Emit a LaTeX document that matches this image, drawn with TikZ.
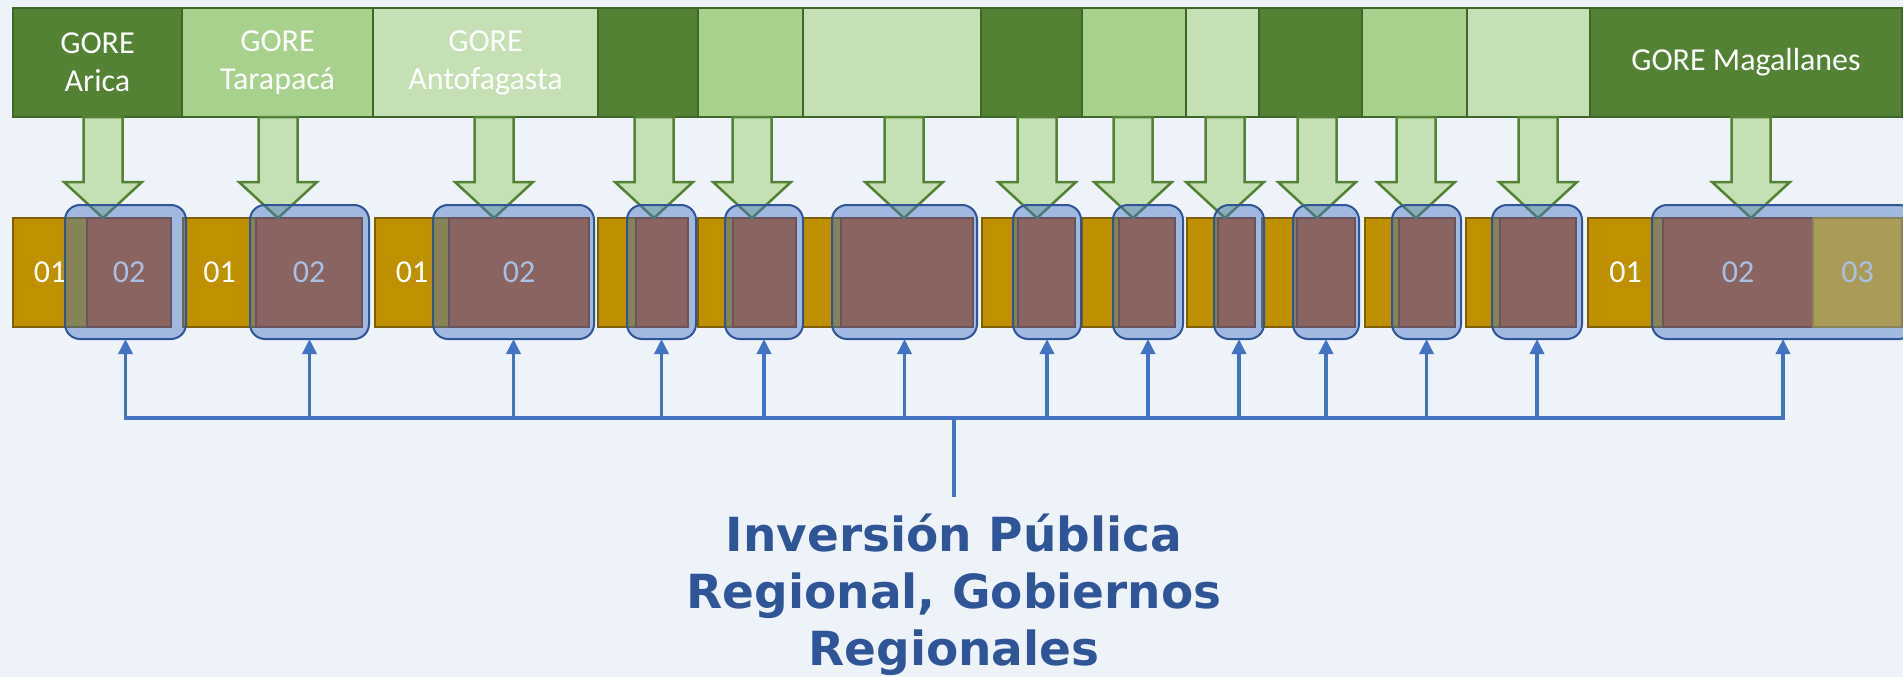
\documentclass[tikz,border=0pt]{standalone}
\usepackage{fontspec}
\setmainfont{Carlito}
\newfontfamily\titlefont{DejaVu Sans}
\usetikzlibrary{arrows.meta}
\definecolor{bgc}{HTML}{EEF3FA}
\definecolor{gdark}{HTML}{548235}
\definecolor{gmed}{HTML}{A9D18E}
\definecolor{glight}{HTML}{C5E0B4}
\definecolor{gborder}{HTML}{3F6628}
\definecolor{goldd}{HTML}{BF9000}
\definecolor{goldb}{HTML}{7F6000}
\definecolor{orng}{HTML}{C55A11}
\definecolor{orngb}{HTML}{843C0C}
\definecolor{yel}{HTML}{FFC000}
\definecolor{accblue}{HTML}{4472C4}
\definecolor{darkblue}{HTML}{2F5597}
\tikzset{
  topbox/.style={draw=gborder, line width=2pt, inner sep=0pt, outer sep=0pt, anchor=north west,
    minimum height=109pt, text=white, align=center, font=\fontsize{32}{38}\selectfont},
  goldbar/.style={draw=goldb, fill=goldd, line width=2pt, inner sep=0pt, outer sep=0pt, anchor=north west,
    minimum height=109pt, text=white, font=\fontsize{32}{38}\selectfont},
  orangebar/.style={goldbar, draw=orngb, fill=orng},
  yellowbar/.style={goldbar, draw=goldd, fill=yel},
  hilite/.style={draw=darkblue, line width=2pt, fill=accblue, fill opacity=0.45, rounded corners=15pt,
    inner sep=0pt, outer sep=0pt, anchor=north west, minimum height=134pt},
  blockarrow/.style={draw=gdark, fill=glight, line width=2.5pt, line join=miter},
  bus/.style={draw=accblue, line width=3.5pt},
  busarrow/.style={bus, -{Triangle[length=15pt,width=14pt]}},
  titletext/.style={text=darkblue, align=center, font=\titlefont\bfseries\fontsize{47}{57}\selectfont, inner sep=0pt}
}
\begin{document}
\begin{tikzpicture}[x=1pt,y=-1pt]
\fill[bgc] (0,0) rectangle (1903,677);
\useasboundingbox (0,0) rectangle (1903,677);

% top boxes
\node[topbox, fill=gdark,  minimum width=169pt] (t1)  at (13,8)   {GORE\\Arica};
\node[topbox, fill=gmed,   minimum width=191pt] (t2)  at (182,8)  {GORE\\Tarapacá};
\node[topbox, fill=glight, minimum width=225pt] (t3)  at (373,8)  {GORE\\Antofagasta};
\node[topbox, fill=gdark,  minimum width=100pt] (t4)  at (598,8)  {};
\node[topbox, fill=gmed,   minimum width=105pt] (t5)  at (698,8)  {};
\node[topbox, fill=glight, minimum width=178pt] (t6)  at (803,8)  {};
\node[topbox, fill=gdark,  minimum width=101pt] (t7)  at (981,8)  {};
\node[topbox, fill=gmed,   minimum width=104pt] (t8)  at (1082,8) {};
\node[topbox, fill=glight, minimum width=73pt]  (t9)  at (1186,8) {};
\node[topbox, fill=gdark,  minimum width=103pt] (t10) at (1259,8) {};
\node[topbox, fill=gmed,   minimum width=105pt] (t11) at (1362,8) {};
\node[topbox, fill=glight, minimum width=123pt] (t12) at (1467,8) {};
\node[topbox, fill=gdark,  minimum width=312pt] (t13) at (1590,8) {GORE Magallanes};

% bars
\node[goldbar,   minimum width=74pt]  (a1)  at (13,218)   {01};
\node[orangebar, minimum width=84pt]  (b1)  at (87,218)   {02};
\node[goldbar,   minimum width=73pt]  (a2)  at (183,218)  {01};
\node[orangebar, minimum width=106pt] (b2)  at (256,218)  {02};
\node[goldbar,   minimum width=74pt]  (a3)  at (375,218)  {01};
\node[orangebar, minimum width=140pt] (b3)  at (449,218)  {02};
\node[goldbar,   minimum width=38pt]  (a4)  at (598,218)  {};
\node[orangebar, minimum width=52pt]  (b4)  at (636,218)  {};
\node[goldbar,   minimum width=35pt]  (a5)  at (698,218)  {};
\node[orangebar, minimum width=63pt]  (b5)  at (733,218)  {};
\node[goldbar,   minimum width=38pt]  (a6)  at (803,218)  {};
\node[orangebar, minimum width=132pt] (b6)  at (841,218)  {};
\node[goldbar,   minimum width=36pt]  (a7)  at (982,218)  {};
\node[orangebar, minimum width=57pt]  (b7)  at (1018,218) {};
\node[goldbar,   minimum width=37pt]  (a8)  at (1082,218) {};
\node[orangebar, minimum width=56pt]  (b8)  at (1119,218) {};
\node[goldbar,   minimum width=31pt]  (a9)  at (1187,218) {};
\node[orangebar, minimum width=37pt]  (b9)  at (1218,218) {};
\node[goldbar,   minimum width=35pt]  (a10) at (1262,218) {};
\node[orangebar, minimum width=58pt]  (b10) at (1297,218) {};
\node[goldbar,   minimum width=34pt]  (a11) at (1365,218) {};
\node[orangebar, minimum width=56pt]  (b11) at (1399,218) {};
\node[goldbar,   minimum width=34pt]  (a12) at (1466,218) {};
\node[orangebar, minimum width=76pt]  (b12) at (1500,218) {};
\node[goldbar,   minimum width=75pt]  (a13) at (1588,218) {01};
\node[orangebar, minimum width=150pt] (b13) at (1663,218) {02};
\node[yellowbar, minimum width=89pt]  (c13) at (1813,218) {03};

% green block arrows
\foreach \c in {103,278,494,654,752,904,1037,1133,1225,1317,1416,1538,1751}{
  \draw[blockarrow] (\c-19.5,117) -- (\c-19.5,182) -- (\c-39,182) -- (\c,218)
     -- (\c+39,182) -- (\c+19.5,182) -- (\c+19.5,117) -- cycle;
}

% highlight frames
\node[hilite, minimum width=121pt] (r1)  at (65,205)   {};
\node[hilite, minimum width=119pt] (r2)  at (250,205)  {};
\node[hilite, minimum width=161pt] (r3)  at (433,205)  {};
\node[hilite, minimum width=69pt]  (r4)  at (627,205)  {};
\node[hilite, minimum width=78pt]  (r5)  at (725,205)  {};
\node[hilite, minimum width=145pt] (r6)  at (832,205)  {};
\node[hilite, minimum width=68pt]  (r7)  at (1013,205) {};
\node[hilite, minimum width=70pt]  (r8)  at (1113,205) {};
\node[hilite, minimum width=50pt]  (r9)  at (1214,205) {};
\node[hilite, minimum width=66pt]  (r10) at (1293,205) {};
\node[hilite, minimum width=69pt]  (r11) at (1392,205) {};
\node[hilite, minimum width=90pt]  (r12) at (1492,205) {};
\node[hilite, minimum width=262pt] (r13) at (1652,205) {};

% blue connectors
\coordinate (hub) at (954,418);
\coordinate (stemend) at (954,497);
\draw[bus] (stemend) -- (hub);
\foreach \i in {1,...,13}{
  \draw[busarrow] (hub) -| (r\i.south);
}

% title
\node[titletext, anchor=base] (title) at (954,665) {Inversión Pública\\Regional, Gobiernos\\Regionales};
\end{tikzpicture}
\end{document}
